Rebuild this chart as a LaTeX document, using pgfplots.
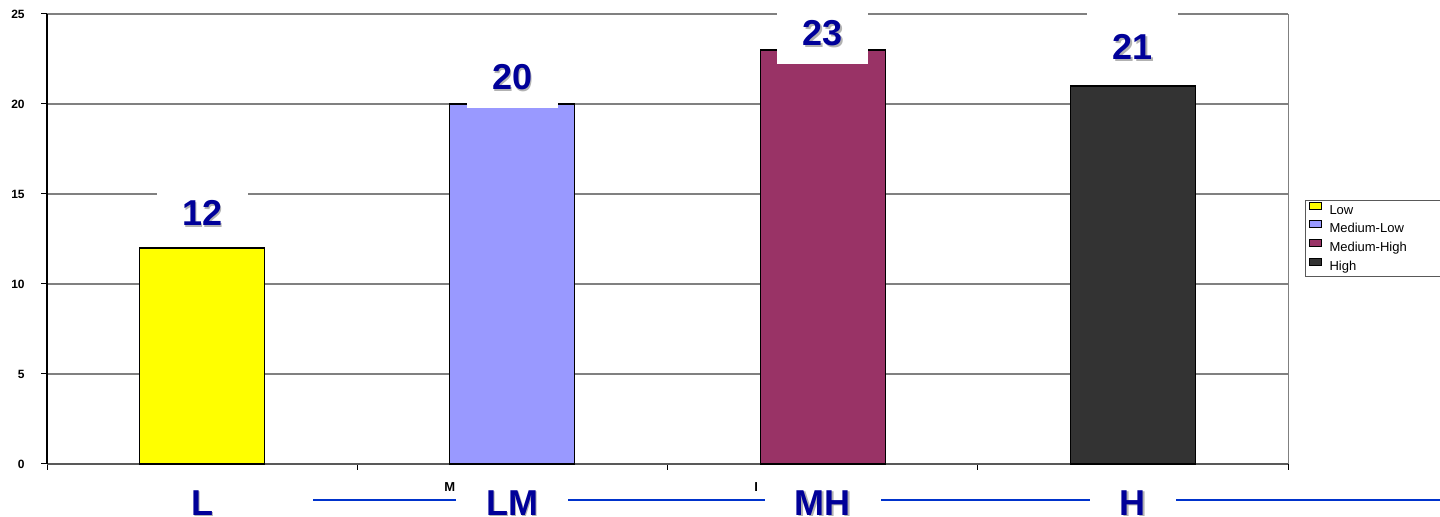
\documentclass[border=0pt]{standalone}
\usepackage{pgfplots}
\pgfplotsset{compat=1.18}
\usepackage{fontspec}
\setmainfont{Liberation Sans}

\definecolor{lowc}{HTML}{FFFF00}
\definecolor{mlowc}{HTML}{9999FF}
\definecolor{mhighc}{HTML}{993366}
\definecolor{highc}{HTML}{333333}
\definecolor{navyc}{HTML}{000099}
\definecolor{rulec}{HTML}{0033CC}

% text with a soft grey drop shadow
\newcommand\shadowed[1]{\leavevmode\rlap{\kern0.8pt\raisebox{-0.8pt}{\textcolor{black!30}{#1}}}#1}

\pgfplotsset{
  barstyle/.style={ybar, bar width=0.403, bar shift=0pt, draw=black, line width=0.6pt,
    nodes near coords={\shadowed{\pgfmathprintnumber{\pgfplotspointmeta}}},
    nodes near coords align={anchor=base},
    every node near coord/.append style={font=\bfseries\fontsize{18}{20}\selectfont,
      text=navyc, fill=white, draw=none, line width=0pt,
      text height=23.5pt, text depth=9pt, inner ysep=0pt, inner xsep=12.75pt}},
}

\begin{document}
\begin{tikzpicture}
\path[use as bounding box] (0,0) rectangle (720pt,-258.5pt);
% category rule under the axis
\draw[rulec, line width=1pt] (156.5pt,-250pt) -- (720pt,-250pt);
\node[font=\bfseries\fontsize{6.5}{7.5}\selectfont, anchor=base west, inner sep=0pt] at (222pt,-246pt) {M};
\node[font=\bfseries\fontsize{6.5}{7.5}\selectfont, anchor=base west, inner sep=0pt] at (377pt,-246pt) {I};
\begin{axis}[
  at={(23.5pt,-232pt)}, anchor=south west,
  scale only axis, width=620.5pt, height=225pt,
  xmin=-0.5, xmax=3.5, ymin=0, ymax=25,
  clip=false,
  /pgf/number format/assume math mode=true,
  axis x line*=bottom, axis y line*=left,
  x axis line style={black!65, line width=1pt, -},
  y axis line style={black, line width=0.7pt, -},
  ytick={0,5,...,25},
  ymajorgrids, major grid style={black!50, line width=0.6pt},
  y tick style={black, line width=0.5pt},
  xtick={0,1,2,3},
  xticklabels={\shadowed{L},\shadowed{LM},\shadowed{MH},\shadowed{H}},
  minor xtick={-0.5,0.5,1.5,2.5,3.5},
  major x tick style={draw=none},
  minor x tick style={black, line width=0.5pt},
  tick align=outside,
  major tick length=3pt, minor tick length=3pt,
  yticklabel style={font=\bfseries\fontsize{6}{7}\selectfont, anchor=east, inner sep=0pt, xshift=-8pt},
  xticklabel style={font=\bfseries\fontsize{18}{20}\selectfont, text=navyc, fill=white,
    anchor=base, inner xsep=15pt, inner ysep=1pt, text height=9pt, text depth=0pt, yshift=-22.5pt},
  legend image code/.code={\draw[#1, line width=0.4pt] (0pt,0.8pt) rectangle (6pt,4.3pt);
    \path (8.5pt,2pt);},
  legend cell align=left,
  legend style={at={(1.0137,0.5867)}, anchor=north west, draw=black!65, line width=0.5pt,
    fill=white, font=\fontsize{6.5}{7.5}\selectfont, inner xsep=1.5pt, inner ysep=0.5pt,
    row sep=0pt,
    nodes={text height=5pt, text depth=1.5pt, inner ysep=1.4pt, inner xsep=1.5pt}},
]
\addplot[barstyle, fill=lowc, every node near coord/.append style={yshift=11pt}]
  coordinates {(0,12)};
\addlegendentry{\makebox[60pt][l]{Low}}
\addplot[barstyle, fill=mlowc, every node near coord/.append style={yshift=7pt}]
  coordinates {(1,20)};
\addlegendentry{\makebox[60pt][l]{Medium-Low}}
\addplot[barstyle, fill=mhighc, every node near coord/.append style={yshift=2pt}]
  coordinates {(2,23)};
\addlegendentry{\makebox[60pt][l]{Medium-High}}
\addplot[barstyle, fill=highc, every node near coord/.append style={yshift=13pt}]
  coordinates {(3,21)};
\addlegendentry{\makebox[60pt][l]{High}}
\draw[black!50, line width=0.5pt] (rel axis cs:1,0) -- (rel axis cs:1,1);
\end{axis}
\end{tikzpicture}
\end{document}
